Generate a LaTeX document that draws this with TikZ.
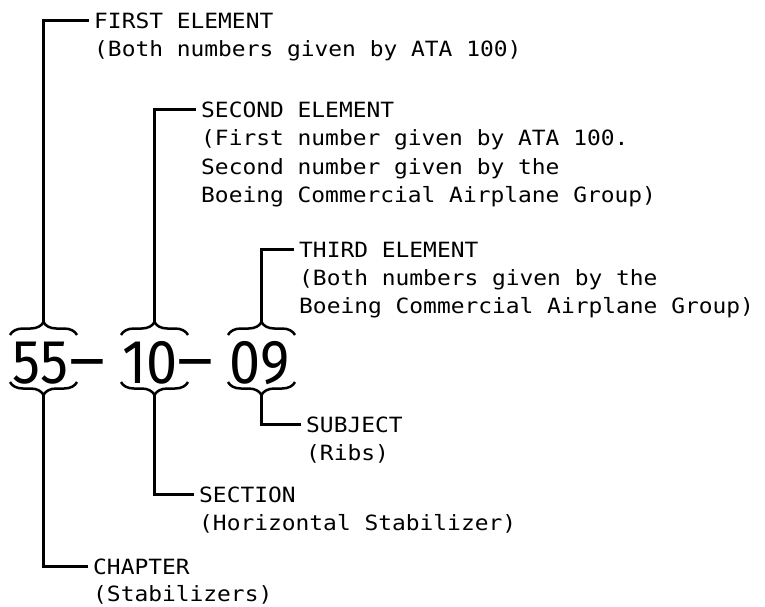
\documentclass[tikz,border=0pt]{standalone}
\usepackage{fontspec}
\newfontfamily\labelfont[FakeStretch=1.09]{DejaVu Sans Mono}
\newfontfamily\numfont[FakeStretch=0.9]{Fira Sans}
\newfontfamily\dashfont[FakeStretch=1.35]{Fira Sans}
\usepackage{tikz}
\usetikzlibrary{positioning}
\usetikzlibrary{decorations.pathreplacing}

\begin{document}
\begin{tikzpicture}[x=1pt,y=-1pt,
  title/.style={anchor=base west,inner xsep=5pt,inner ysep=0pt,text height=15pt,text depth=0pt,font=\labelfont\fontsize{21}{28}\selectfont},
  desc/.style={anchor=base west,inner xsep=5pt,inner ysep=0pt,text width=470pt,align=flush left,font=\labelfont\fontsize{21}{28}\selectfont},
  num/.style={anchor=base,inner sep=0pt,font=\numfont\fontsize{62}{62}\selectfont},
  numdash/.style={anchor=base,inner sep=0pt,font=\dashfont\fontsize{62}{62}\selectfont},
  curly/.style={decorate,decoration={brace,amplitude=13pt},line width=2.5pt},
  leader/.style={line width=3pt}]
\useasboundingbox (0,0) rectangle (765,606);

% the number
\node[num] (n55) at (40.5,383) {55};
\node[numdash] (dash1) at (87,382) {\symbol{"2212}};
\node[num] (n10) at (150,383) {10};
\node[numdash] (dash2) at (195,382) {\symbol{"2212}};
\node[num] (n09) at (259.5,383) {09};

\draw[curly] (10,335) -- (77,335);
\draw[curly] (121,335) -- (188,335);
\draw[curly] (228,335) -- (295,335);
\draw[curly] (77,382) -- (10,382);
\draw[curly] (188,382) -- (121,382);
\draw[curly] (295,382) -- (228,382);

\coordinate (t55) at (43.5,322);
\coordinate (t10) at (154.5,322);
\coordinate (t09) at (261.5,322);
\coordinate (b55) at (43.5,395);
\coordinate (b10) at (154.5,395);
\coordinate (b09) at (261.5,395);

% labels
\node[title] (first) at (89,28) {FIRST ELEMENT};
\node[below=28pt of first.base west,desc] (firstd) {(Both numbers given by ATA 100)};
\node[title] (second) at (196,117) {SECOND ELEMENT};
\node[below=28.5pt of second.base west,desc,font=\labelfont\fontsize{21}{28.5}\selectfont] (secondd) {(First number given by ATA 100.\\Second number given by the\\Boeing Commercial Airplane Group)};
\node[title] (third) at (294,257) {THIRD ELEMENT};
\node[below=28pt of third.base west,desc] (thirdd) {(Both numbers given by the\\Boeing Commercial Airplane Group)};
\node[title] (subject) at (301,432) {SUBJECT};
\node[below=28pt of subject.base west,desc] (subjectd) {(Ribs)};
\node[title] (section) at (194,502) {SECTION};
\node[below=28pt of section.base west,desc] (sectiond) {(Horizontal Stabilizer)};
\node[title] (chapter) at (88,574) {CHAPTER};
\node[below=27pt of chapter.base west,desc] (chapterd) {(Stabilizers)};

\draw[leader] (t55) |- (first.west);
\draw[leader] (t10) |- (second.west);
\draw[leader] (t09) |- (third.west);
\draw[leader] (b09) |- (subject.west);
\draw[leader] (b10) |- (section.west);
\draw[leader] (b55) |- (chapter.west);
\end{tikzpicture}
\end{document}
